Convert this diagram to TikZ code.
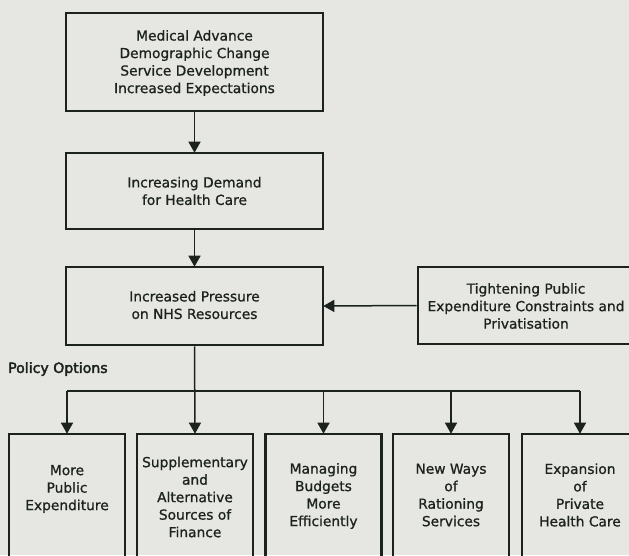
\documentclass[tikz,border=0pt]{standalone}
\usepackage{fontspec}
\setmainfont{DejaVu Sans}[RawFeature={embolden=0.9}]
\newfontfamily\pofont{DejaVu Sans}[RawFeature={embolden=2.5}]
\usetikzlibrary{arrows.meta}
\definecolor{bg}{HTML}{E6E7E2}
\definecolor{ink}{HTML}{1C221E}
\tikzset{
  box/.style={draw=ink, line width=2.6pt, inner sep=0pt},
  txt/.style={text=ink, align=center, font=\fontsize{13.8}{17.5}\selectfont, inner sep=0pt},
  conn/.style={draw=ink, line width=1.5pt},
  arr/.style={conn, -{Triangle[width=12pt,length=11pt]}, shorten >=-1pt},
}
\begin{document}
\begin{tikzpicture}[x=1pt,y=-1pt]
\fill[bg] (0,0) rectangle (629,555);
\useasboundingbox (0,0) rectangle (629,555);
\clip (0,0) rectangle (629,555);
% top chain
\node[box, minimum width=257pt, minimum height=98pt] (b1) at (194.5,62) {};
\node[txt] (t1) at (194.5,63) {Medical Advance\\Demographic Change\\Service Development\\Increased Expectations};
\node[box, minimum width=257pt, minimum height=76pt] (b2) at (194.5,191) {};
\node[txt] (t2) at (194.5,191) {Increasing Demand\\for Health Care};
\node[box, minimum width=257pt, minimum height=78pt] (b3) at (194.5,306) {};
\node[txt] (t3) at (194.5,305) {Increased Pressure\\on NHS Resources};
\node[box, minimum width=216pt, minimum height=77pt] (b4) at (526,305.5) {};
\node[txt] (t4) at (526,306) {Tightening Public\\Expenditure Constraints and\\Privatisation};
\node[txt, anchor=west, font=\pofont\fontsize{14.1}{17.5}\selectfont] (po) at (8,369) {Policy Options};
% bottom boxes
\foreach \n/\x in {c1/67, c2/195, c3/323.5, c4/451, c5/580}{
  \node[box, minimum width=116pt, minimum height=136pt] (\n) at (\x,502) {};
}
\node[txt] (u1) at (67,489) {More\\Public\\Expenditure};
\node[txt] (u2) at (195,497) {Supplementary\\and\\Alternative\\Sources of\\Finance};
\node[txt] (u3) at (323.5,496) {Managing\\Budgets\\More\\Efficiently};
\node[txt] (u4) at (451,495) {New Ways\\of\\Rationing\\Services};
\node[txt] (u5) at (580,495) {Expansion\\of\\Private\\Health Care};
% connectors
\draw[arr] (b1.south) -- (b2.north);
\draw[arr] (b2.south) -- (b3.north);
\draw[arr] (b4.west) -- (b3.east);
\draw[arr] (b3.south) -- (c2.north);
\coordinate (hl) at (c1.north |- 0,391);
\coordinate (hr) at (c5.north |- 0,391);
\draw[conn] (hl) -- (hr);
\foreach \n in {c1,c3,c4,c5}{
  \draw[arr] (\n.north |- 0,391) -- (\n.north);
}
\end{tikzpicture}
\end{document}
